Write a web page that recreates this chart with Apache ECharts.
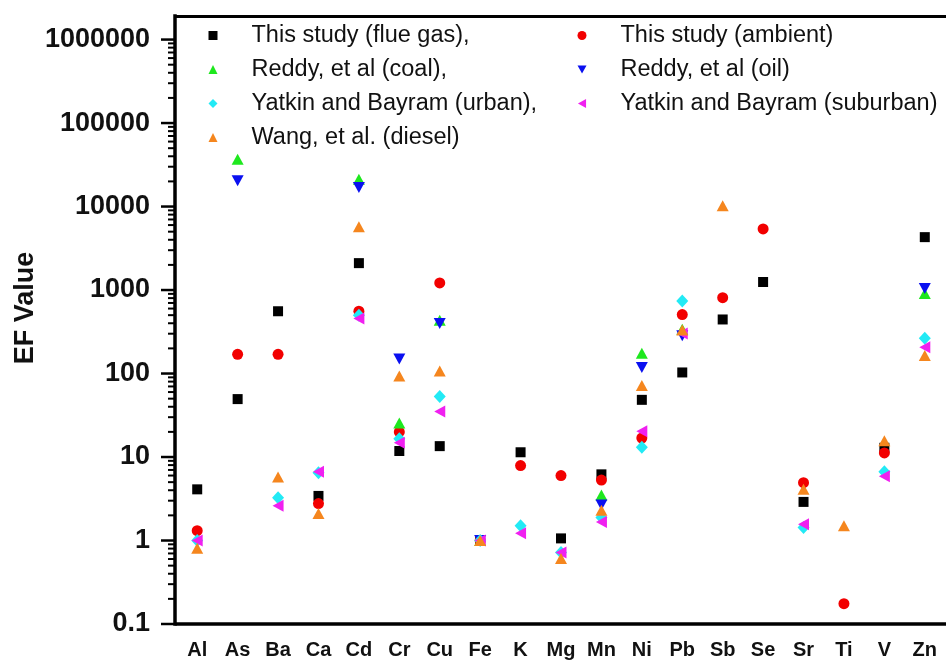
<!DOCTYPE html>
<html>
<head>
<meta charset="utf-8">
<script src="https://cdn.jsdelivr.net/npm/echarts@6/dist/echarts.min.js"></script>
<style>
html,body{margin:0;padding:0;background:#fff;}
#chart{width:946px;height:660px;}
</style>
</head>
<body>
<div id="chart"></div>
<script>
// ---- data ----
const elements = ['Al','As','Ba','Ca','Cd','Cr','Cu','Fe','K','Mg','Mn','Ni','Pb','Sb','Se','Sr','Ti','V','Zn'];
const yTickLabels = [0.1, 1, 10, 100, 1000, 10000, 100000, 1000000];

const flueGas  = [4.1, 49.4, 557, 3.42, 2100, 11.8, 13.5, 1, 11.4, 1.06, 6.2, 48.4, 103, 444, 1248, 2.9, null, 12.9, 4300];
const ambient  = [1.31, 170, 170, 2.77, 557, 20, 1215, 1, 7.9, 6.0, 5.3, 16.9, 509, 811, 5390, 4.92, 0.175, 11.2, null];
const reddyCoal= [null, 36800, null, null, 21300, 25.6, 435, 1, null, null, 3.5, 175, 340, null, null, null, null, null, 906];
const reddyOil = [null, 20300, null, null, 16900, 149, 398, 1, null, null, 2.67, 118, 284, null, null, null, null, null, 1040];
const yatUrban = [1.0, null, 3.26, 6.5, 500, 16.6, 53, 1, 1.5, 0.72, 1.88, 13.1, 741, null, null, 1.43, null, 6.66, 264];
const yatSub   = [1.0, null, 2.6, 6.66, 456, 14.8, 35, 1, 1.22, 0.72, 1.67, 20.4, 302, null, null, 1.57, null, 5.9, 206];
const wangDiesel=[0.81, null, 5.76, 2.1, 5740, 93.5, 107, 1, null, 0.61, 2.3, 72, 331, 10200, null, 4.1, 1.5, 15.7, 164];

const names = {
  flue: 'This study (flue gas),',
  amb: 'This study (ambient)',
  coal: 'Reddy, et al (coal),',
  oil: 'Reddy, et al (oil)',
  urb: 'Yatkin and Bayram (urban),',
  sub: 'Yatkin and Bayram (suburban)',
  dsl: 'Wang, et al. (diesel)'
};

// minor (log) tick positions of the y axis
const minorTicks = [];
for (let e = -1; e < 6; e++) for (let m = 2; m <= 9; m++) minorTicks.push(+(m * Math.pow(10, e)).toPrecision(3));

const FONT = 'Liberation Sans, Arial, Helvetica, sans-serif';
const AXIS_OFFSET = 2;

function sc(name, data, symbol, size, color) {
  return {
    type: 'scatter', name: name,
    data: data.map((v, i) => v == null ? null : [i, v]),
    symbol: symbol, symbolSize: size,
    itemStyle: { color: color, opacity: 1 },
    emphasis: { disabled: true },
    z: 3
  };
}

const tickData = yTickLabels.map(v => [0, v, 1]).concat(minorTicks.map(v => [0, v, 0]));

const chart = echarts.init(document.getElementById('chart'), null, { renderer: 'canvas' });
const legendCommon = {
  orient: 'vertical', padding: 0, itemGap: 10,
  itemWidth: 9, itemHeight: 9,
  selectedMode: false,
  textStyle: { fontFamily: FONT, fontSize: 23.5, color: '#111', padding: [0, 0, 0, 29], lineHeight: 23 }
};
chart.setOption({
  animation: false,
  backgroundColor: '#fff',
  grid: { left: 177, right: 1, top: 16, bottom: 33, containLabel: false },
  legend: [
    Object.assign({}, legendCommon, { left: 208.5, top: 23.5, data: [names.flue, names.coal, names.urb, names.dsl] }),
    Object.assign({}, legendCommon, { left: 577.5, top: 23.5, data: [names.amb, names.oil, names.sub] })
  ],
  xAxis: [{
    type: 'category', data: elements, boundaryGap: true,
    axisLine: { lineStyle: { color: '#000', width: 3.5, cap: 'square' } },
    axisTick: { show: false },
    axisLabel: { fontFamily: FONT, fontSize: 20, fontWeight: 'bold', color: '#111', margin: 16, interval: 0 },
    splitLine: { show: false }
  }, {
    type: 'category', data: elements, position: 'top',
    axisLine: { lineStyle: { color: '#000', width: 3, cap: 'square' } },
    axisTick: { show: false }, axisLabel: { show: false }, splitLine: { show: false }
  }],
  yAxis: {
    type: 'log', logBase: 10, min: 0.1, max: 1915000, interval: 1,
    offset: AXIS_OFFSET,
    name: 'EF Value', nameLocation: 'middle', nameGap: 136, nameRotate: 90,
    nameMoveOverlap: false,
    nameTextStyle: { fontFamily: FONT, fontSize: 27, fontWeight: 'bold', color: '#111', padding: [0, 0, 0, 24] },
    axisLine: { show: true, lineStyle: { color: '#000', width: 3.5, cap: 'square' } },
    axisTick: { show: false },
    minorTick: { show: false },
    splitLine: { show: false },
    axisLabel: {
      fontFamily: FONT, fontSize: 27, fontWeight: 'bold', color: '#111', margin: 25,
      formatter: function (v) {
        const l = Math.log10(v);
        if (Math.abs(l - Math.round(l)) > 1e-6) return '';
        const r = Math.round(l);
        return r < 0 ? '0.1' : String(Math.pow(10, r));
      }
    }
  },
  series: [
    sc(names.flue, flueGas, 'rect', 10, '#000000'),
    sc(names.amb, ambient, 'circle', 11, '#f20000'),
    sc(names.coal, reddyCoal, 'triangle', [12, 11], '#1ee81e'),
    sc(names.oil, reddyOil, 'path://M0,0 L10,0 L5,9 Z', [12, 11], '#0a10f0'),
    sc(names.urb, yatUrban, 'diamond', [12, 13], '#22eaf5'),
    sc(names.sub, yatSub, 'path://M0,5 L9,0 L9,10 Z', [11, 12], '#f020f0'),
    sc(names.dsl, wangDiesel, 'triangle', [12, 11], '#f5861e'),
    {
      type: 'custom', name: 'yticks', silent: true, clip: false, z: 5,
      data: tickData,
      encode: { x: 0, y: 1 },
      renderItem: function (params, api) {
        const y = api.coord([0, api.value(1)])[1];
        const x0 = params.coordSys.x - AXIS_OFFSET;
        const major = api.value(2) === 1;
        const len = major ? 14 : 7;
        return {
          type: 'line',
          shape: { x1: x0 - len, y1: y, x2: x0, y2: y },
          style: { stroke: '#000', lineWidth: major ? 2.5 : 2 }
        };
      }
    }
  ]
});
</script>
</body>
</html>
